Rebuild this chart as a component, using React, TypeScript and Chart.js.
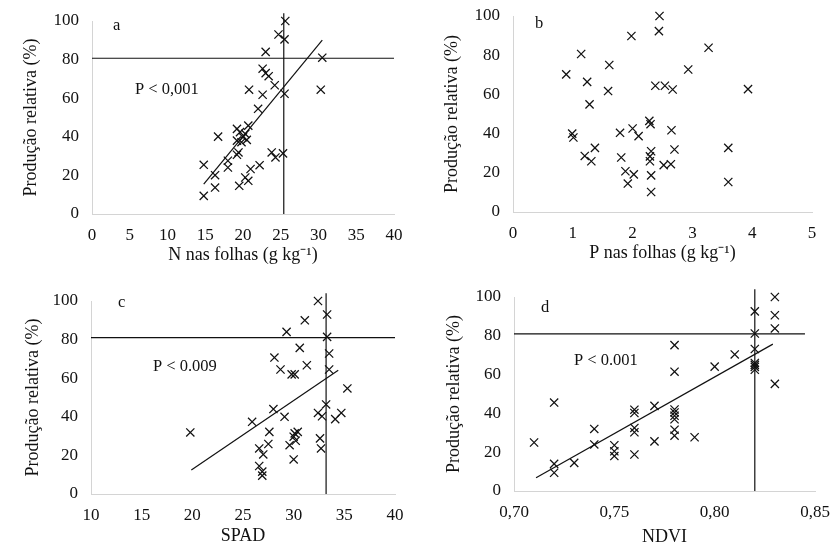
import React, { useEffect, useRef } from "react";
import { Chart, registerables } from "chart.js";

Chart.register(...registerables);

// ---------- data ----------
const yTicks = [0, 20, 40, 60, 80, 100];

// panel a
const nFolhas = [25.6, 24.7, 25.5, 23.0, 30.5, 22.6, 23.0, 23.4, 24.2, 20.8, 30.3, 22.6, 25.5, 22.0, 20.7, 19.2, 16.7, 19.6, 20.3, 20.0, 20.5, 19.2, 19.8, 19.4, 19.2, 18.0, 18.0, 14.8, 16.3, 16.3, 14.8, 19.5, 20.3, 20.7, 21.0, 22.2, 23.8, 24.3, 25.3];
const prodA = [100, 93, 90.5, 84, 81, 75.3, 73, 71.4, 66.7, 64.4, 64.4, 61.8, 62.3, 54.5, 45.8, 44.1, 40.1, 42.4, 41.5, 39.8, 38.4, 38, 37.2, 31.9, 30.7, 27.6, 24.1, 25.5, 20.1, 13.7, 9.4, 14.6, 18.9, 17.2, 23.3, 25.3, 31.9, 29.3, 31.4];
const xTicksA = [0, 5, 10, 15, 20, 25, 30, 35, 40];
const regA = [[14.8, 15.5], [30.5, 90.1]];
const hLineA = [[0, 80.7], [40, 80.7]];
const vLineA = [[25.4, 0], [25.4, 104]];

// panel b
const pFolhas = [2.45, 2.44, 1.98, 3.27, 1.14, 1.61, 2.93, 0.89, 1.24, 2.38, 2.54, 2.67, 3.93, 1.59, 1.28, 2.28, 2.30, 0.99, 1.01, 2.0, 1.79, 2.10, 2.65, 1.37, 3.6, 2.70, 1.20, 1.81, 1.31, 2.31, 2.29, 2.29, 2.52, 2.64, 1.88, 2.02, 2.31, 1.92, 3.6, 2.31];
const prodB = [100, 92.3, 89.8, 83.8, 80.6, 75, 72.7, 70.2, 66.4, 64.4, 64.4, 62.5, 62.7, 61.7, 54.9, 46.5, 44.8, 40, 38, 42.6, 40.4, 38.7, 41.7, 32.7, 32.7, 31.9, 28.6, 27.8, 25.9, 31, 28.4, 25.9, 23.9, 24.4, 20.8, 19.2, 18.7, 14.5, 15.3, 10.2];
const xTicksB = [0, 1, 2, 3, 4, 5];

// panel c
const spad = [32.4, 31.1, 33.3, 29.3, 33.3, 30.6, 28.1, 33.5, 31.3, 28.7, 33.5, 29.8, 30.1, 35.3, 33.2, 28.0, 32.4, 34.7, 32.8, 29.1, 34.1, 25.9, 19.8, 27.6, 30.1, 30.4, 30.0, 30.2, 32.6, 27.5, 29.6, 26.6, 32.7, 27.0, 30.0, 26.6, 26.9, 26.9];
const prodC = [100, 90, 93, 84, 81.4, 75.7, 70.7, 72.8, 66.7, 64.5, 64.5, 62, 62, 54.7, 46.4, 44, 42, 42, 40.3, 40, 38.8, 37.4, 31.9, 32.2, 31.4, 32.2, 29.7, 27.6, 28.8, 25.9, 25.3, 23.6, 23.6, 20.5, 17.9, 14.5, 11.6, 9.5];
const xTicksC = [10, 15, 20, 25, 30, 35, 40];
const regC = [[19.9, 12.4], [34.4, 64.1]];
const hLineC = [[10, 81], [40, 81]];
const vLineC = [[33.2, 0], [33.2, 104]];

// panel d
const ndvi = [0.83, 0.83, 0.83, 0.82, 0.82, 0.82, 0.82, 0.82, 0.82, 0.82, 0.83, 0.78, 0.81, 0.80, 0.78, 0.72, 0.77, 0.76, 0.76, 0.78, 0.78, 0.78, 0.78, 0.74, 0.76, 0.76, 0.78, 0.78, 0.79, 0.71, 0.77, 0.74, 0.75, 0.75, 0.75, 0.76, 0.73, 0.72, 0.72];
const prodD = [100, 90.6, 83.8, 92.6, 81.2, 73.2, 66, 65, 64, 62.5, 55.2, 75.2, 70.4, 64.1, 61.5, 45.6, 43.9, 41.9, 40.2, 42, 40.5, 38.8, 37, 32, 32.5, 30.3, 31.6, 28.5, 27.7, 25, 25.6, 24, 23.6, 20.5, 18, 18.8, 14.5, 14, 9.4];
const xTicksD = [0.7, 0.75, 0.8, 0.85];
const regD = [[0.711, 6.8], [0.829, 75.7]];
const hLineD = [[0.7, 81], [0.845, 81]];
const vLineD = [[0.82, 0], [0.82, 104]];

const yTitle = "Produção relativa (%)";

// ---------- layout / style ----------
const W = 833;
const H = 552;
const FONT = '"Liberation Serif", "Times New Roman", serif';
const TICK_FS = 17;
const TITLE_FS = 18;
const TEXT_FS = 16.5;
const TICK_LH = TICK_FS * 1.2;
const TITLE_LH = TITLE_FS * 1.2;

type Panel = {
  xs: number[];
  ys: number[];
  lines: number[][][];
  xTicks: number[];
  fmt: (v: number) => string;
  xTitle: string;
  area: { l: number; r: number; t: number; b: number };
  padLeft: number;
  yTitleX: number;
  xTickY: number;
  xTitleY: number;
  texts: { t: string; x: number; y: number }[];
};

const panels: Panel[] = [
  {
    xs: nFolhas, ys: prodA, lines: [regA, hLineA, vLineA], xTicks: xTicksA,
    fmt: (v) => String(v), xTitle: "N nas folhas (g kg⁻¹)",
    area: { l: 92, r: 394, t: 21, b: 214 }, padLeft: 0, yTitleX: 31, xTickY: 236, xTitleY: 255,
    texts: [{ t: "a", x: 113, y: 26 }, { t: "P < 0,001", x: 135, y: 90 }],
  },
  {
    xs: pFolhas, ys: prodB, lines: [], xTicks: xTicksB,
    fmt: (v) => String(v), xTitle: "P nas folhas (g kg⁻¹)",
    area: { l: 513, r: 812, t: 16, b: 212 }, padLeft: 421, yTitleX: 452, xTickY: 234, xTitleY: 253,
    texts: [{ t: "b", x: 535, y: 24 }],
  },
  {
    xs: spad, ys: prodC, lines: [regC, hLineC, vLineC], xTicks: xTicksC,
    fmt: (v) => String(v), xTitle: "SPAD",
    area: { l: 91, r: 395, t: 301, b: 494 }, padLeft: 0, yTitleX: 33, xTickY: 516, xTitleY: 536,
    texts: [{ t: "c", x: 118, y: 303 }, { t: "P < 0.009", x: 153, y: 367 }],
  },
  {
    xs: ndvi, ys: prodD, lines: [regD, hLineD, vLineD], xTicks: xTicksD,
    fmt: (v) => v.toFixed(2).replace(".", ","), xTitle: "NDVI",
    area: { l: 514, r: 815, t: 297, b: 491 }, padLeft: 421, yTitleX: 454, xTickY: 513, xTitleY: 537,
    texts: [{ t: "d", x: 541, y: 308 }, { t: "P < 0.001", x: 574, y: 361 }],
  },
];

function makeConfig(p: Panel): any {
  const { area } = p;
  const scatter = {
    type: "scatter",
    data: p.xs.map((x, i) => ({ x, y: p.ys[i] })),
    pointStyle: "crossRot",
    pointRadius: 5.8,
    pointHoverRadius: 5.8,
    borderColor: "#111",
    backgroundColor: "#111",
    pointBorderWidth: 1.25,
    borderWidth: 1.25,
    clip: false,
  };
  const lineSets = p.lines.map((ln) => ({
    type: "line",
    data: ln.map(([x, y]) => ({ x, y })),
    showLine: true,
    pointRadius: 0,
    borderColor: "#111",
    borderWidth: 1.2,
    fill: false,
    clip: false,
  }));
  const xMin = p.xTicks[0];
  const xMax = p.xTicks[p.xTicks.length - 1];
  const textPlugin = {
    id: "panelTexts",
    afterDraw(chart: any) {
      const ctx = chart.ctx;
      ctx.save();
      ctx.fillStyle = "#111";
      ctx.font = `${TEXT_FS}px ${FONT}`;
      ctx.textAlign = "left";
      ctx.textBaseline = "middle";
      p.texts.forEach((t) => ctx.fillText(t.t, t.x, t.y));
      ctx.restore();
    },
  };
  return {
    type: "scatter",
    data: { datasets: [scatter, ...lineSets] },
    plugins: [textPlugin],
    options: {
      animation: false,
      responsive: false,
      events: [],
      layout: {
        padding: {
          left: p.padLeft,
          top: area.t,
          right: W - area.r,
          bottom: H - (p.xTitleY + TITLE_LH / 2),
        },
      },
      plugins: { legend: { display: false }, tooltip: { enabled: false }, title: { display: false } },
      scales: {
        x: {
          type: "linear",
          min: xMin,
          max: xMax,
          afterBuildTicks: (s: any) => { s.ticks = p.xTicks.map((v) => ({ value: v })); },
          afterFit: (s: any) => {
            s.height = p.xTitleY + TITLE_LH / 2 - area.b;
            s.paddingLeft = 0;
            s.paddingRight = 0;
          },
          grid: { display: false, drawTicks: false },
          border: { display: true, color: "#d4d4d4", dash: [2, 3], width: 1 },
          ticks: {
            color: "#111",
            font: { family: FONT, size: TICK_FS },
            padding: p.xTickY - area.b - TICK_LH / 2,
            maxRotation: 0,
            autoSkip: false,
            callback: (v: any) => p.fmt(Number(v)),
          },
          title: {
            display: true,
            text: p.xTitle,
            color: "#111",
            font: { family: FONT, size: TITLE_FS },
            padding: { top: 0, bottom: 0 },
          },
        },
        y: {
          type: "linear",
          min: 0,
          max: 100,
          afterBuildTicks: (s: any) => { s.ticks = yTicks.map((v) => ({ value: v })); },
          afterFit: (s: any) => {
            s.width = area.l - p.padLeft;
            s.paddingTop = 0;
            s.paddingBottom = 0;
          },
          grid: { display: false, drawTicks: false },
          border: { display: true, color: "#d4d4d4", dash: [2, 3], width: 1 },
          ticks: {
            color: "#111",
            font: { family: FONT, size: TICK_FS },
            padding: 13,
            autoSkip: false,
          },
          title: {
            display: true,
            text: yTitle,
            color: "#111",
            font: { family: FONT, size: TITLE_FS },
            padding: { top: p.yTitleX - p.padLeft - TITLE_LH / 2, bottom: 0 },
          },
        },
      },
    },
  };
}

function PanelCanvas({ p }: { p: Panel }) {
  const ref = useRef<HTMLCanvasElement | null>(null);
  useEffect(() => {
    if (!ref.current) return;
    const chart = new Chart(ref.current, makeConfig(p));
    return () => chart.destroy();
  }, [p]);
  return (
    <canvas
      ref={ref}
      width={W}
      height={H}
      style={{ position: "absolute", left: 0, top: 0, width: W, height: H }}
    />
  );
}

export default function App() {
  return (
    <div style={{ position: "absolute", left: 0, top: 0, width: W, height: H, background: "#fff", overflow: "hidden" }}>
      {panels.map((p, i) => (
        <PanelCanvas key={i} p={p} />
      ))}
    </div>
  );
}
